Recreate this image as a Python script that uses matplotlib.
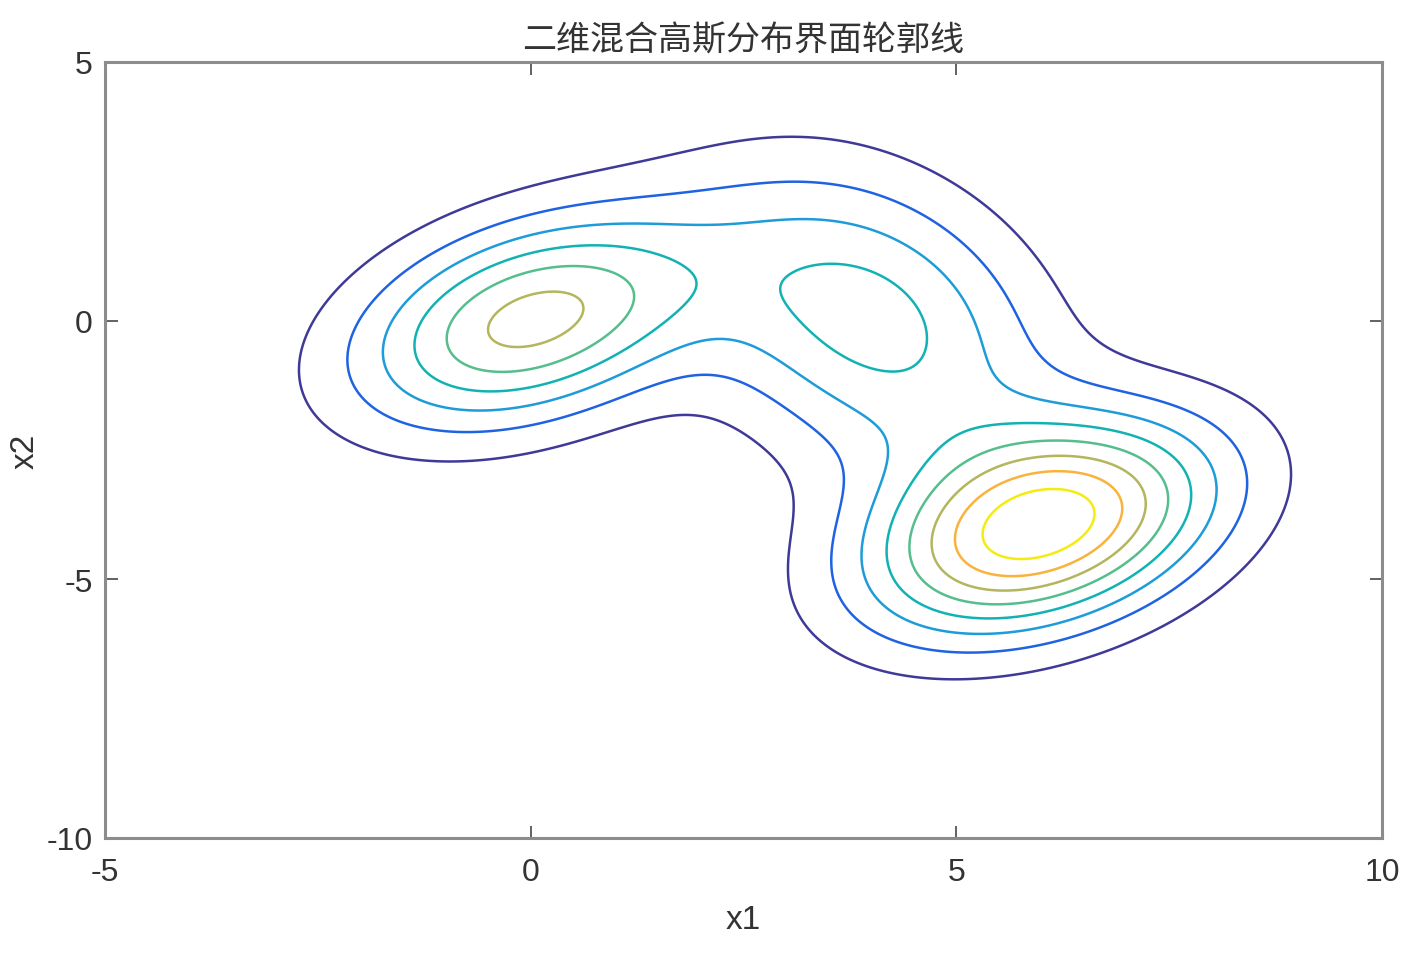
#!/usr/bin/env python3

import numpy as np
from matplotlib import pyplot as plt

# Mixture components.
means = [[0.0, 0.0], [6.0, -4.0], [4.0, 0.0]]
covs = [[[2.0, 0.7], [0.7, 2.0]],
        [[2.0, 0.7], [0.7, 2.0]],
        [[2.0, -0.8], [-0.8, 4.0]]]
weights = [0.3, 0.4, 0.3]
levels = [0.004, 0.008, 0.012, 0.016, 0.020, 0.024, 0.028, 0.032]

xticks = [-5, 0, 5, 10]
yticks = [-10, -5, 0, 5]

# Line colours, one per level (parula-like).
line_colors = ['#3f3a98', '#1f63e2', '#1e9bd9', '#12b2b4',
               '#55be8c', '#b3b65c', '#f9b33c', '#f4ec10']

plt.rcParams['font.family'] = ['Liberation Sans Narrow', 'Liberation Sans', 'DejaVu Sans']

# Evaluation grid.
x = np.arange(-5, 10.0001, 0.04)
y = np.arange(-10, 5.0001, 0.04)
gx, gy = np.meshgrid(x, y)
pos = np.stack([gx, gy], axis=-1)

z = np.zeros_like(gx)
for m, c, w in zip(means, covs, weights):
    c = np.array(c)
    inv = np.linalg.inv(c)
    d = pos - np.array(m)
    q = np.einsum('...i,ij,...j->...', d, inv, d)
    z += w * np.exp(-0.5 * q) / (2 * np.pi * np.sqrt(np.linalg.det(c)))

fig = plt.figure(figsize=(14.26, 9.54), dpi=100)
ax = fig.add_axes([105/1426, 1 - 839/954, 1277/1426, 776/954])
ax.contour(gx, gy, z, levels=levels, colors=line_colors, linewidths=1.8)

ax.set_xlim(-5, 10)
ax.set_ylim(-10, 5)
ax.set_xticks(xticks)
ax.set_yticks(yticks)
ax.set_xticklabels([str(v) for v in xticks])
ax.set_yticklabels([str(v) for v in yticks])
ax.tick_params(direction='in', length=9, width=1.3, colors='#555555',
               labelcolor='#333333', labelsize=23, top=True, right=True)
ax.tick_params(axis='x', pad=14)
ax.tick_params(axis='y', pad=9)
for s in ax.spines.values():
    s.set_color('#8c8c8c')
    s.set_linewidth(2.2)

ax.set_xlabel('x1', fontsize=24, color='#333333', labelpad=12)
ax.set_ylabel('x2', fontsize=24, color='#333333', labelpad=4)
ax.set_title('二维混合高斯分布界面轮郭线', fontsize=24.5, color='#333333', pad=9,
             family=['Noto Sans CJK SC', 'DejaVu Sans'])

plt.savefig('out.png', dpi=100)
